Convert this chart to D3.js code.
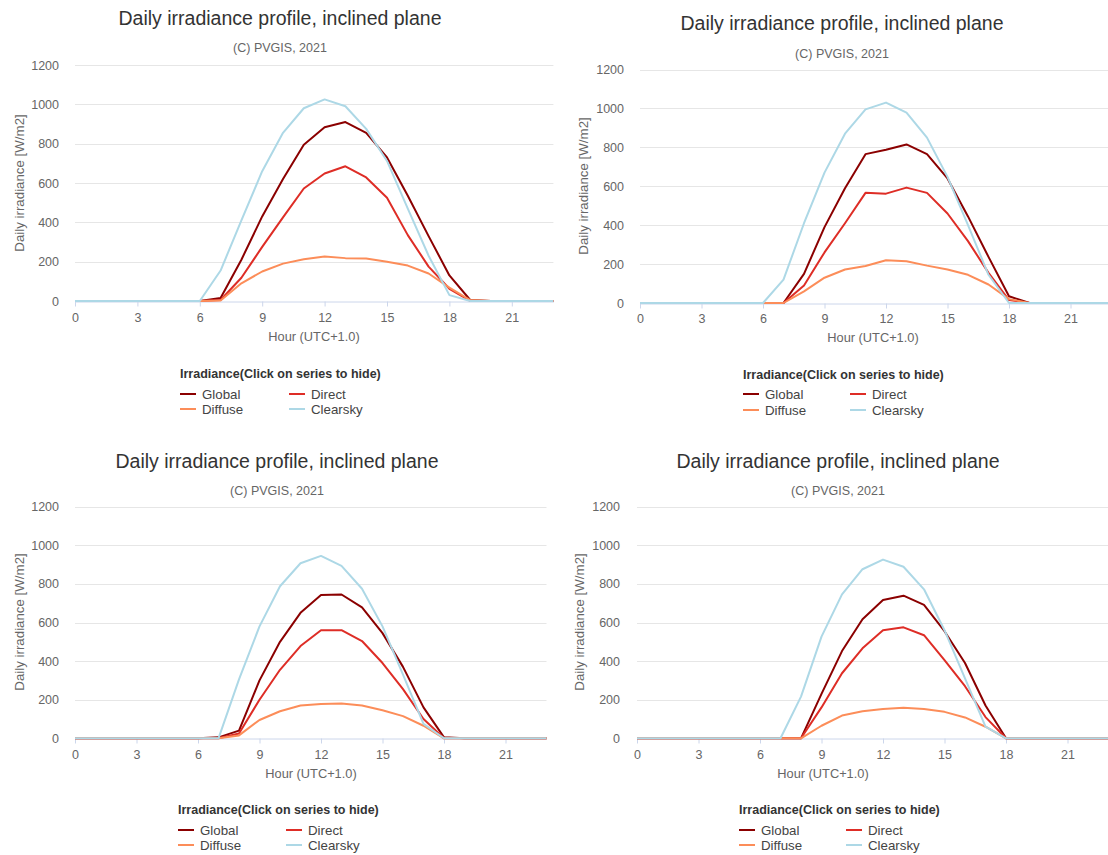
<!DOCTYPE html>
<html>
<head>
<meta charset="utf-8">
<script src="https://cdn.jsdelivr.net/npm/d3@7"></script>
<style>
  body { margin: 0; background: #fff; }
  svg { font-family: "Liberation Sans", Arial, sans-serif; }
</style>
</head>
<body>
<div id="chart"></div>
<script>
// hours of the day and axis ticks
var hours = d3.range(0, 24);
var xTicks = [0, 3, 6, 9, 12, 15, 18, 21];
var yTicks = [0, 200, 400, 600, 800, 1000, 1200];
var seriesNames = ["Global", "Direct", "Diffuse", "Clearsky"];
var seriesColors = ["#8b0000", "#de2d26", "#fc8d59", "#add8e6"];

// panel 1 (top left)
var global1   = [0,0,0,0,0,0,0,15,210,430,620,795,883,910,855,730,535,330,130,5,0,0,0,0];
var direct1   = [0,0,0,0,0,0,0,5,118,275,425,572,648,685,628,525,335,175,62,0,0,0,0,0];
var diffuse1  = [0,0,0,0,0,0,0,3,90,150,190,212,226,218,216,200,180,140,68,5,0,0,0,0];
var clearsky1 = [0,0,0,0,0,0,0,155,410,660,855,980,1025,990,875,712,470,230,30,0,0,0,0,0];

// panel 2 (top right)
var global2   = [0,0,0,0,0,0,0,0,150,390,590,765,788,815,765,640,445,237,35,0,0,0,0,0];
var direct2   = [0,0,0,0,0,0,0,0,90,260,410,566,562,593,566,460,318,155,15,0,0,0,0,0];
var diffuse2  = [0,0,0,0,0,0,0,0,60,130,172,190,220,215,192,172,145,95,20,0,0,0,0,0];
var clearsky2 = [0,0,0,0,0,0,0,120,410,670,870,995,1030,978,850,648,400,145,0,0,0,0,0,0];

// panel 3 (bottom left)
var global3   = [0,0,0,0,0,0,0,5,40,300,500,650,742,745,678,545,370,160,5,0,0,0,0,0];
var direct3   = [0,0,0,0,0,0,0,0,25,200,355,478,560,560,504,390,255,100,0,0,0,0,0,0];
var diffuse3  = [0,0,0,0,0,0,0,0,15,95,140,170,178,180,170,145,115,65,0,0,0,0,0,0];
var clearsky3 = [0,0,0,0,0,0,0,0,305,580,788,907,945,893,775,580,330,75,0,0,0,0,0,0];

// panel 4 (bottom right)
var global4   = [0,0,0,0,0,0,0,0,0,230,452,617,717,739,691,555,390,170,0,0,0,0,0,0];
var direct4   = [0,0,0,0,0,0,0,0,0,160,337,466,560,575,534,405,270,110,0,0,0,0,0,0];
var diffuse4  = [0,0,0,0,0,0,0,0,0,65,118,140,152,158,152,137,108,60,0,0,0,0,0,0];
var clearsky4 = [0,0,0,0,0,0,0,0,216,527,746,876,926,889,772,560,310,60,0,0,0,0,0,0];

var panelData = [
  [global1, direct1, diffuse1, clearsky1],
  [global2, direct2, diffuse2, clearsky2],
  [global3, direct3, diffuse3, clearsky3],
  [global4, direct4, diffuse4, clearsky4]
];

// layout of each screenshot panel
var layouts = [
  {x0: 75, hourW: 20.8, yTop: 65, yBot: 301, titleX: 280, titleY: 25, subY: 52,
   yTitleX: 19, yTitleY: 183, yLabelX: 59, xLabelY: 322, xTitleX: 314, xTitleY: 341,
   legX: 180, legCol: 109, legTitleY: 378, legRow1: 394, legRow2: 409},
  {x0: 640, hourW: 20.5, yTop: 69.5, yBot: 303, titleX: 842, titleY: 30, subY: 58,
   yTitleX: 583, yTitleY: 186, yLabelX: 624, xLabelY: 323, xTitleX: 873, xTitleY: 342,
   legX: 743, legCol: 107, legTitleY: 379, legRow1: 394, legRow2: 410},
  {x0: 75, hourW: 20.5, yTop: 506.7, yBot: 738.3, titleX: 277, titleY: 468, subY: 495,
   yTitleX: 19, yTitleY: 622, yLabelX: 59, xLabelY: 759, xTitleX: 311, xTitleY: 778,
   legX: 178, legCol: 108, legTitleY: 814, legRow1: 830, legRow2: 845},
  {x0: 637, hourW: 20.5, yTop: 506.7, yBot: 738.3, titleX: 838, titleY: 468, subY: 495,
   yTitleX: 579, yTitleY: 622, yLabelX: 620, xLabelY: 759, xTitleX: 823, xTitleY: 778,
   legX: 739, legCol: 107, legTitleY: 814, legRow1: 830, legRow2: 845}
];

var svg = d3.select("#chart").append("svg")
  .attr("width", 1108)
  .attr("height", 855);

function drawPanel(L, series) {
  var g = svg.append("g");

  var x = d3.scaleLinear().domain([0, 23]).range([L.x0, L.x0 + 23 * L.hourW]);
  var y = d3.scaleLinear().domain([0, 1200]).range([L.yBot, L.yTop]);

  // title and subtitle
  g.append("text")
    .attr("x", L.titleX).attr("y", L.titleY)
    .attr("text-anchor", "middle")
    .style("font-size", "19.5px").style("fill", "#333333")
    .text("Daily irradiance profile, inclined plane");
  g.append("text")
    .attr("x", L.titleX).attr("y", L.subY)
    .attr("text-anchor", "middle")
    .style("font-size", "12.5px").style("fill", "#666666")
    .text("(C) PVGIS, 2021");

  // grid lines
  g.append("g").selectAll("line")
    .data(yTicks.filter(function(d) { return d > 0; }))
    .enter().append("line")
    .attr("x1", x(0)).attr("x2", x(23))
    .attr("y1", function(d) { return Math.round(y(d)) + 0.5; })
    .attr("y2", function(d) { return Math.round(y(d)) + 0.5; })
    .style("stroke", "#e6e6e6").style("stroke-width", 1);

  // y labels
  g.append("g").selectAll("text")
    .data(yTicks).enter().append("text")
    .attr("x", L.yLabelX).attr("y", function(d) { return y(d) + 4.5; })
    .attr("text-anchor", "end")
    .style("font-size", "12.5px").style("fill", "#666666")
    .text(function(d) { return d; });

  g.append("text")
    .attr("transform", "translate(" + L.yTitleX + "," + L.yTitleY + ") rotate(-90)")
    .attr("text-anchor", "middle")
    .attr("dy", "0.35em")
    .style("font-size", "13.3px").style("fill", "#666666")
    .text("Daily irradiance [W/m2]");

  // x axis
  var xAxis = g.append("g")
    .attr("transform", "translate(0," + (Math.round(L.yBot) + 0.5) + ")")
    .call(d3.axisBottom(x).tickValues(xTicks).tickSize(5).tickSizeOuter(0));
  xAxis.select(".domain").style("stroke", "#ccd6eb");
  xAxis.selectAll(".tick line").style("stroke", "#ccd6eb");
  xAxis.selectAll(".tick text")
    .attr("y", L.xLabelY - Math.round(L.yBot) - 0.5).attr("dy", 0)
    .style("font-size", "12.5px").style("fill", "#666666")
    .style("font-family", "Liberation Sans, Arial, sans-serif");

  g.append("text")
    .attr("x", L.xTitleX).attr("y", L.xTitleY)
    .attr("text-anchor", "middle")
    .style("font-size", "12.8px").style("fill", "#666666")
    .text("Hour (UTC+1.0)");

  // series lines
  var line = d3.line()
    .x(function(d, i) { return x(hours[i]); })
    .y(function(d) { return y(d); });

  series.forEach(function(values, k) {
    g.append("path")
      .datum(values)
      .attr("d", line)
      .style("fill", "none")
      .style("stroke", seriesColors[k])
      .style("stroke-width", 2)
      .style("stroke-linejoin", "round");
  });

  // legend
  g.append("text")
    .attr("x", L.legX).attr("y", L.legTitleY)
    .style("font-size", "12.5px").style("font-weight", "bold").style("fill", "#333333")
    .text("Irradiance(Click on series to hide)");

  seriesNames.forEach(function(name, k) {
    var lx = L.legX + (k % 2) * L.legCol;
    var ly = k < 2 ? L.legRow1 : L.legRow2;
    g.append("line")
      .attr("x1", lx).attr("x2", lx + 16)
      .attr("y1", ly).attr("y2", ly)
      .style("stroke", seriesColors[k]).style("stroke-width", 2);
    g.append("text")
      .attr("x", lx + 22).attr("y", ly + 4.5)
      .style("font-size", "13.3px").style("fill", "#444444")
      .text(name);
  });
}

layouts.forEach(function(L, i) { drawPanel(L, panelData[i]); });
</script>
</body>
</html>
